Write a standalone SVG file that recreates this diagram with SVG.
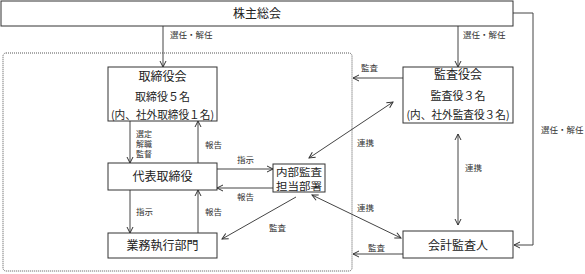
<svg xmlns="http://www.w3.org/2000/svg" width="585" height="274" viewBox="0 0 585 274">
<style>
.box{fill:#fff;stroke:#333;stroke-width:1}
.t{font-family:"Noto Sans CJK JP","Noto Sans",sans-serif;fill:#222;text-anchor:middle}
.t12{font-size:12px}
.t11{font-size:11px}
.s{font-family:"Noto Sans CJK JP","Noto Sans",sans-serif;fill:#333;font-size:8.5px}
.s8{font-size:8px}
.c{fill:none;stroke:#444;stroke-width:1}
</style>
<defs>
<marker id="ah" viewBox="0 0 8 8" refX="7" refY="4" markerWidth="8" markerHeight="8" markerUnits="userSpaceOnUse" orient="auto-start-reverse">
<path d="M1,1 L7,4 L1,7" fill="none" stroke="#333" stroke-width="1"/>
</marker>
</defs>
<rect x="3" y="53" width="349" height="218" rx="3" fill="none" stroke="#555" stroke-width="1" stroke-dasharray="1,1"/>
<g id="connectors">
<line class="c" x1="163" y1="26" x2="163" y2="67" marker-end="url(#ah)"/>
<line class="c" x1="458" y1="26" x2="458" y2="67" marker-end="url(#ah)"/>
<polyline class="c" points="513,13 533,13 533,245 514,245" stroke="#666" stroke-width="1.5" marker-end="url(#ah)"/>
<line class="c" x1="130" y1="121" x2="130" y2="163" marker-end="url(#ah)"/>
<line class="c" x1="198" y1="163" x2="198" y2="121" marker-end="url(#ah)"/>
<line class="c" x1="217" y1="169" x2="273" y2="169" marker-end="url(#ah)"/>
<line class="c" x1="273" y1="188" x2="217" y2="188" marker-end="url(#ah)"/>
<line class="c" x1="130" y1="190" x2="130" y2="233" marker-end="url(#ah)"/>
<line class="c" x1="198" y1="233" x2="198" y2="190" marker-end="url(#ah)"/>
<line class="c" x1="393" y1="102" x2="309" y2="158" marker-start="url(#ah)" marker-end="url(#ah)"/>
<line class="c" x1="296" y1="197" x2="222" y2="239" marker-end="url(#ah)"/>
<line class="c" x1="312" y1="195" x2="401" y2="238" marker-start="url(#ah)" marker-end="url(#ah)"/>
<line class="c" x1="403" y1="78" x2="353" y2="78" marker-end="url(#ah)"/>
<line class="c" x1="403" y1="254" x2="353" y2="254" marker-end="url(#ah)"/>
<line class="c" x1="458" y1="134" x2="458" y2="225" marker-start="url(#ah)" marker-end="url(#ah)"/>
</g>
<g id="labels">
<text class="s" x="170" y="38">選任・解任</text>
<text class="s" x="463" y="38">選任・解任</text>
<text class="s" x="541" y="133">選任・解任</text>
<text class="s" x="361" y="71">監査</text>
<text class="s" x="357" y="146">連携</text>
<text class="s" x="357" y="211">連携</text>
<text class="s" x="465" y="171">連携</text>
<text class="s" x="368" y="251">監査</text>
<text class="s" x="269" y="231">監査</text>
<text class="s" x="237" y="163">指示</text>
<text class="s" x="237" y="200">報告</text>
<text class="s s8" x="136" y="137">選定</text>
<text class="s s8" x="136" y="147">解職</text>
<text class="s s8" x="136" y="157">監督</text>
<text class="s" x="205" y="148">報告</text>
<text class="s" x="136" y="215">指示</text>
<text class="s" x="205" y="215">報告</text>
</g>
<g id="shareholders">
<rect class="box" x="1" y="1" width="512" height="25"/>
<text class="t t12" x="257" y="18">株主総会</text>
</g>
<g id="board">
<rect class="box" x="108" y="67" width="109" height="54"/>
<text class="t t12" x="162.5" y="81">取締役会</text>
<text class="t t11" x="162.5" y="101">取締役５名</text>
<text class="t t11" x="162.5" y="119" textLength="103" lengthAdjust="spacingAndGlyphs">(内、社外取締役１名)</text>
</g>
<g id="auditboard">
<rect class="box" x="403" y="67" width="110" height="56"/>
<text class="t t12" x="458" y="79">監査役会</text>
<text class="t t11" x="458" y="100">監査役３名</text>
<text class="t t11" x="458" y="119" textLength="103" lengthAdjust="spacingAndGlyphs">(内、社外監査役３名)</text>
</g>
<g id="ceo">
<rect class="box" x="108" y="163" width="109" height="27"/>
<text class="t t12" x="162.5" y="181">代表取締役</text>
</g>
<g id="internalaudit">
<rect class="box" x="273" y="164" width="52" height="28"/>
<text class="t" style="font-size:10.5px" x="299" y="175.5" textLength="46" lengthAdjust="spacingAndGlyphs">内部監査</text>
<text class="t" style="font-size:10.5px" x="299" y="190" textLength="46" lengthAdjust="spacingAndGlyphs">担当部署</text>
</g>
<g id="operations">
<rect class="box" x="108" y="233" width="109" height="25"/>
<text class="t t12" x="162.5" y="250">業務執行部門</text>
</g>
<g id="auditor">
<rect class="box" x="403" y="231" width="110" height="27"/>
<text class="t t12" x="458" y="250">会計監査人</text>
</g>
</svg>
